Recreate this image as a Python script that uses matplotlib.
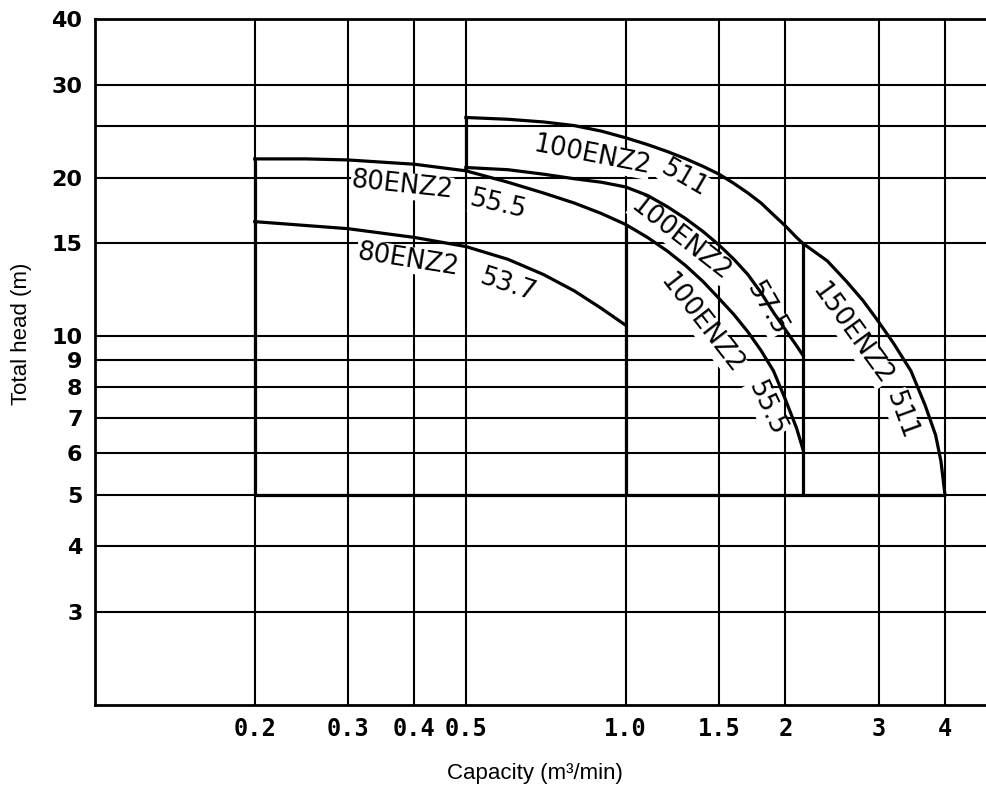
import matplotlib.pyplot as plt

# capacity (m3/min) and total head (m)
cap_80_537 = [0.2, 0.3, 0.4, 0.5, 0.6, 0.7, 0.8, 0.9, 1.0]
head_80_537 = [16.5, 16.0, 15.4, 14.8, 14.0, 13.1, 12.2, 11.3, 10.5]

cap_555 = [0.2, 0.25, 0.3, 0.4, 0.5, 0.6, 0.7, 0.8, 0.9, 1.0, 1.1, 1.2, 1.3,
           1.4, 1.5, 1.6, 1.7, 1.8, 1.9, 2.0, 2.1, 2.16]
head_555 = [21.7, 21.7, 21.6, 21.2, 20.6, 19.6, 18.7, 17.9, 17.1, 16.3, 15.4,
            14.5, 13.6, 12.7, 11.8, 11.0, 10.2, 9.4, 8.6, 7.6, 6.7, 6.1]

cap_100_575 = [0.5, 0.6, 0.7, 0.8, 0.9, 1.0, 1.1, 1.2, 1.3, 1.4, 1.5, 1.6,
               1.7, 1.8, 1.9, 2.0, 2.1, 2.16]
head_100_575 = [20.9, 20.7, 20.3, 19.9, 19.6, 19.2, 18.5, 17.6, 16.7, 15.8,
                14.9, 14.0, 13.1, 12.1, 11.1, 10.3, 9.6, 9.2]

cap_100_511 = [0.5, 0.6, 0.7, 0.8, 0.9, 1.0, 1.1, 1.2, 1.3, 1.4, 1.5, 1.6,
               1.7, 1.8, 1.9, 2.0, 2.1, 2.16]
head_100_511 = [26.0, 25.8, 25.5, 25.1, 24.5, 23.8, 23.1, 22.4, 21.7, 21.0,
                20.3, 19.5, 18.7, 17.9, 17.0, 16.2, 15.4, 15.0]

cap_150_511 = [2.16, 2.4, 2.61, 2.8, 2.97, 3.2, 3.45, 3.67, 3.84, 3.93, 4.0]
head_150_511 = [15.0, 13.9, 12.7, 11.7, 10.8, 9.7, 8.6, 7.4, 6.5, 5.8, 5.0]

# range boundaries (vertical edges and the 5 m floor)
edge_x = [0.2, 0.5, 1.0, 2.16]
edge_lo = [5.0, 20.6, 5.0, 5.0]
edge_hi = [21.7, 26.0, 16.3, 15.0]
floor_head = 5.0
floor_x = [0.2, 4.0]

xticks = [0.2, 0.3, 0.4, 0.5, 1.0, 1.5, 2, 3, 4]
xlabels = ["0.2", "0.3", "0.4", "0.5", "1.0", "1.5", "2", "3", "4"]
ygrid = [3, 4, 5, 6, 7, 8, 9, 10, 15, 20, 25, 30, 40]
yticks = [3, 4, 5, 6, 7, 8, 9, 10, 15, 20, 30, 40]

fig = plt.figure(figsize=(9.87, 7.85), dpi=100)
ax = fig.add_axes([0.0963, 0.102, 0.9037, 0.874])
ax.set_xscale("log")
ax.set_yscale("log")
ax.set_xlim(0.1, 4.8)
ax.set_ylim(2, 40)

# grid
for x in xticks:
    ax.axvline(x, color="black", lw=1.5, zorder=1)
for y in ygrid:
    ax.axhline(y, color="black", lw=1.5, zorder=1)

lw = 2.3
for cx, hy in [(cap_80_537, head_80_537), (cap_555, head_555),
               (cap_100_575, head_100_575), (cap_100_511, head_100_511),
               (cap_150_511, head_150_511)]:
    ax.plot(cx, hy, color="black", lw=lw, solid_joinstyle="round", zorder=3)
ax.vlines(edge_x, edge_lo, edge_hi, color="black", lw=lw, zorder=3)
ax.hlines(floor_head, floor_x[0], floor_x[1], color="black", lw=lw, zorder=3)

# curve labels, word by word (white behind them breaks the grid lines)
lab = dict(fontsize=18.5, color="black", ha="center", va="center",
           rotation_mode="anchor", zorder=2,
           bbox=dict(facecolor="white", edgecolor="none", pad=0.1))
words = [
    ("80ENZ2", 0.379, 19.3, -6), ("55.5", 0.574, 17.75, -13),
    ("80ENZ2", 0.388, 13.97, -9), ("53.7", 0.60, 12.5, -18),
    ("100ENZ2", 0.863, 22.0, -11), ("511", 1.29, 19.9, -30),
    ("100ENZ2", 1.27, 15.3, -38), ("57.5", 1.84, 11.3, -60),
    ("100ENZ2", 1.39, 10.57, -52), ("55.5", 1.84, 7.31, -65),
    ("150ENZ2", 2.67, 10.1, -54), ("511", 3.31, 7.1, -70),
]
for w, x, y, r in words:
    ax.text(x, y, w, rotation=r, **lab)

ax.set_xticks(xticks)
ax.set_xticklabels(xlabels, family="DejaVu Sans Mono", weight="bold", fontsize=17)
ax.set_yticks(yticks)
ax.set_yticklabels([str(v) for v in yticks], weight="bold", fontsize=16)
ax.minorticks_off()
ax.tick_params(length=0, pad=9)

for s in ["left", "bottom", "top"]:
    ax.spines[s].set_linewidth(2)
ax.spines["right"].set_visible(False)

ax.set_xlabel("Capacity (m³/min)", family="Liberation Sans", fontsize=16)
ax.set_ylabel("Total head (m)", family="Liberation Sans", fontsize=16)
ax.xaxis.set_label_coords(0.493, -0.085)
ax.yaxis.set_label_coords(-0.071, 0.541)

fig.savefig("out.png", dpi=100)
